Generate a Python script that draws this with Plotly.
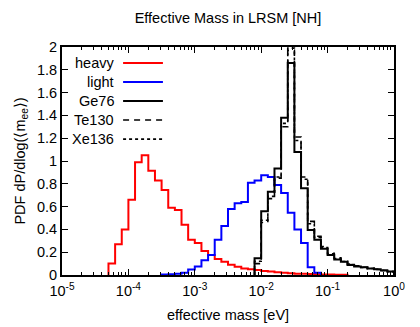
import numpy as np
import plotly.graph_objects as go

# Common histogram binning in log10(m / eV): 50 bins from -5 to 0
log_edges = np.round(np.linspace(-5.0, 0.0, 51), 2)

heavy = [0, 0, 0, 0, 0, 0, 0,
         0.10, 0.27, 0.40, 0.66, 0.99, 1.05, 0.915, 0.83, 0.745, 0.59,
         0.57, 0.44, 0.31, 0.28, 0.21, 0.175, 0.14, 0.117, 0.09, 0.073,
         0.058, 0.05, 0.044, 0.035, 0.03, 0.025, 0.02, 0.015, 0.012, 0.01,
         0.008, 0.006, 0.005, 0.004, 0.003, 0.002, 0, 0, 0, 0, 0, 0, 0]

light = [0, 0, 0, 0, 0, 0, 0, 0, 0, 0, 0, 0, 0, 0, 0,
         0.004, 0.006, 0.01, 0.02, 0.048, 0.075, 0.13, 0.175, 0.31, 0.43,
         0.58, 0.63, 0.64, 0.81, 0.83, 0.875, 0.86, 0.79, 0.72, 0.545,
         0.40, 0.28, 0.067, 0.02, 0, 0, 0, 0, 0, 0, 0, 0, 0, 0, 0]

ge76 = [0] * 29 + [0.146, 0.56, 0.73, 0.935, 1.38, 1.86, 1.08, 0.76, 0.395,
                   0.31, 0.23, 0.175, 0.137, 0.117, 0.088, 0.075, 0.067,
                   0.058, 0.05, 0.04, 0.03]

te130 = [0] * 29 + [0.10, 0.46, 0.67, 0.85, 1.30, 1.97, 1.21, 0.86, 0.47,
                    0.34, 0.25, 0.19, 0.15, 0.12, 0.095, 0.08, 0.068,
                    0.058, 0.05, 0.042, 0.03]

xe136 = [0] * 29 + [0.12, 0.48, 0.69, 0.86, 1.33, 1.99, 1.18, 0.84, 0.45,
                    0.33, 0.24, 0.185, 0.145, 0.118, 0.092, 0.078, 0.066,
                    0.057, 0.048, 0.04, 0.03]

series_names = ["heavy", "light", "Ge76", "Te130", "Xe136"]
series_vals = [heavy, light, ge76, te130, xe136]
series_colors = ["#ff0000", "#0000ff", "#000000", "#000000", "#000000"]
series_dash = ["solid", "solid", "solid", "6px,5px", "3px,3px"]
series_width = [2, 2, 2, 1.6, 1.6]

x_tickvals = [1e-5, 1e-4, 1e-3, 1e-2, 1e-1, 1e0]
x_ticktext = ["10<sup>-5</sup>", "10<sup>-4</sup>", "10<sup>-3</sup>",
              "10<sup>-2</sup>", "10<sup>-1</sup>", "10<sup>0</sup>"]
y_tickvals = [0, 0.2, 0.4, 0.6, 0.8, 1, 1.2, 1.4, 1.6, 1.8, 2]
y_ticktext = ["0", "0.2", "0.4", "0.6", "0.8", "1", "1.2", "1.4", "1.6", "1.8", "2"]

FS = 14.5


def step_xy(vals):
    nz = [i for i, v in enumerate(vals) if v > 0]
    i0, i1 = nz[0], nz[-1]
    xs = [10 ** log_edges[i0]]
    ys = [0]
    for i in range(i0, i1 + 1):
        xs.append(10 ** log_edges[i])
        ys.append(vals[i])
    xs.append(10 ** log_edges[i1 + 1])
    ys.append(0)
    return xs, ys


fig = go.Figure()
for name, vals, col, dash, w in zip(series_names, series_vals, series_colors,
                                    series_dash, series_width):
    xs, ys = step_xy(vals)
    fig.add_trace(go.Scatter(x=xs, y=ys, mode="lines", name=name,
                             line=dict(color=col, dash=dash, width=w, shape="hv"),
                             showlegend=False))

# gnuplot-like legend: text right-aligned, line sample on the right
leg_y = [0.930, 0.846, 0.763, 0.680, 0.596]
annotations = []
shapes = []
for name, col, dash, w, yy in zip(series_names, series_colors, series_dash,
                                  series_width, leg_y):
    annotations.append(dict(xref="paper", yref="paper", x=0.162, y=yy,
                            text=name, showarrow=False, xanchor="right",
                            yanchor="middle",
                            font=dict(size=FS, color="black")))
    shapes.append(dict(type="line", xref="paper", yref="paper",
                       x0=0.184, x1=0.304, y0=yy, y1=yy,
                       line=dict(color=col, dash=dash, width=w)))

# The page body has an 8px margin, so the figure is sized to fit the window.
fig.update_layout(
    width=412, height=319,
    margin=dict(l=54, r=26, t=39, b=52),
    paper_bgcolor="white", plot_bgcolor="white",
    font=dict(family="Liberation Sans, Arial, sans-serif", size=14, color="black"),
    title=dict(text="Effective Mass in LRSM [NH]", x=0.5, xref="paper",
               y=1 - 10 / 319, yref="container", yanchor="middle",
               font=dict(size=FS)),
    annotations=annotations,
    shapes=shapes,
)

fig.update_xaxes(type="log", range=[-5, 0], tickvals=x_tickvals,
                 ticktext=x_ticktext, ticks="inside", ticklen=6,
                 tickwidth=1, tickcolor="black",
                 showline=True, linewidth=2, linecolor="black",
                 mirror="allticks", showgrid=False, zeroline=False,
                 minor=dict(ticks="inside", ticklen=3, tickcolor="black",
                            dtick="D1", showgrid=False),
                 automargin=False, ticklabelstandoff=2,
                 title=dict(text="effective mass [eV]", standoff=11,
                            font=dict(size=FS)),
                 tickfont=dict(size=FS))
fig.update_yaxes(range=[0, 2], tickvals=y_tickvals, ticktext=y_ticktext,
                 ticks="inside", ticklen=6, tickwidth=1, tickcolor="black",
                 showline=True, linewidth=2, linecolor="black",
                 mirror="allticks", showgrid=False, zeroline=False,
                 automargin=False,
                 title=dict(text="PDF dP/dlog(⟨m<sub>ee</sub>⟩)", standoff=8,
                            font=dict(size=FS)),
                 tickfont=dict(size=FS))

fig.write_html("out.html")
